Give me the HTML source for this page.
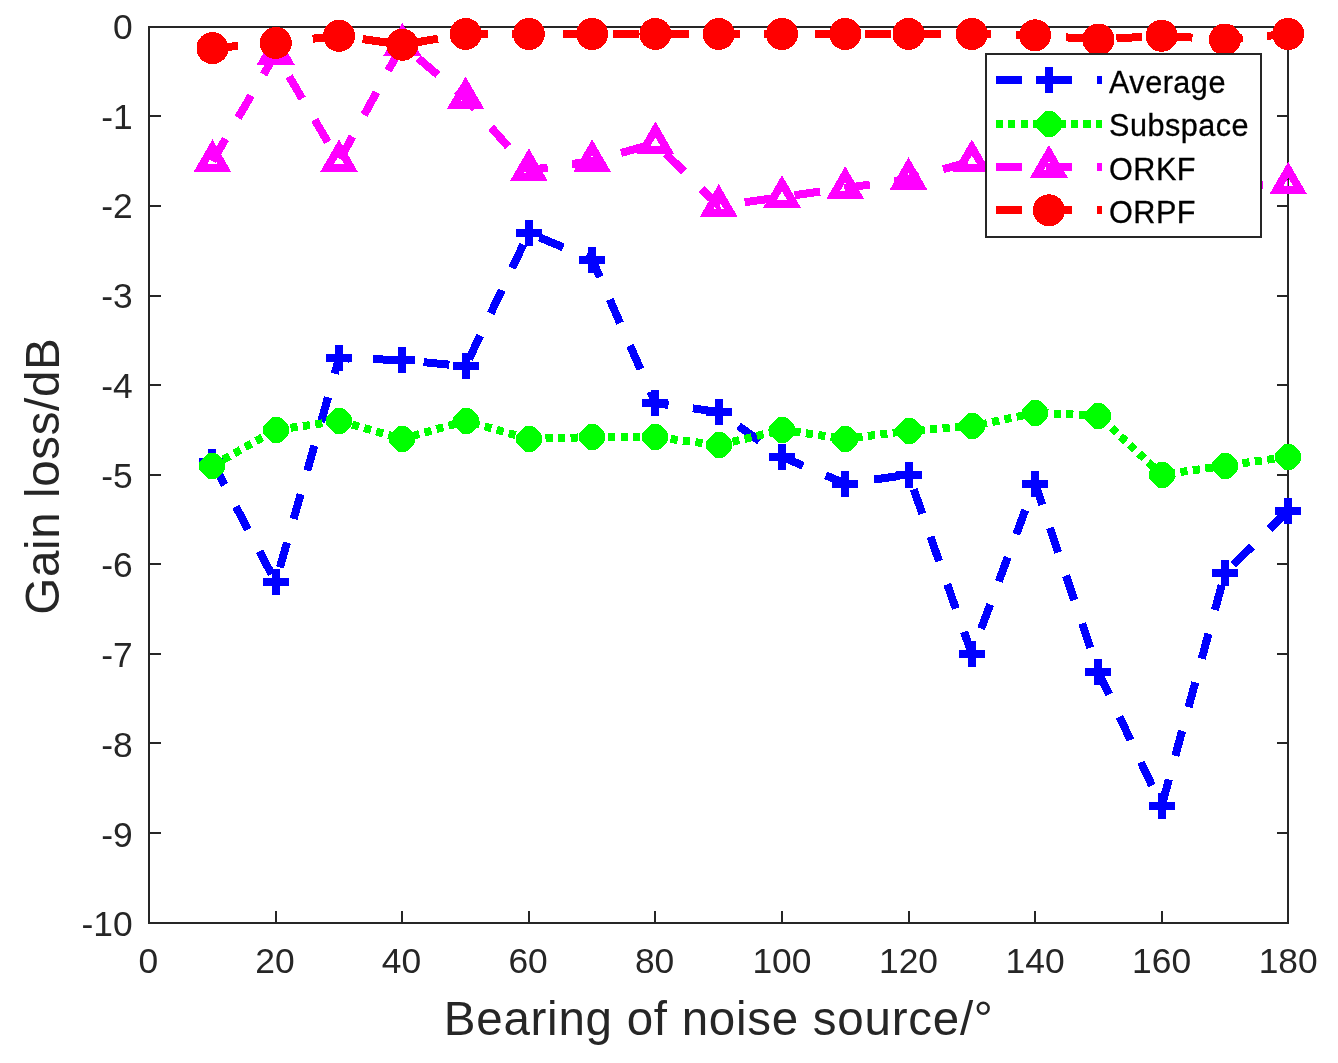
<!DOCTYPE html>
<html><head><meta charset="utf-8"><title>Gain loss</title>
<style>html,body{margin:0;padding:0;background:#fff}svg{display:block}text{font-family:"Liberation Sans",Arial,Helvetica,sans-serif}</style></head><body>
<svg width="1338" height="1063" viewBox="0 0 1338 1063">
<rect width="1338" height="1063" fill="#fff"/>
<g shape-rendering="crispEdges" stroke="#262626" stroke-width="2" fill="none">
<rect x="149.20" y="26.80" width="1139.00" height="895.80"/>
<path d="M275.76 922.60v-11.7M402.31 922.60v-11.7M528.87 922.60v-11.7M655.42 922.60v-11.7M781.98 922.60v-11.7M908.53 922.60v-11.7M1035.09 922.60v-11.7M1161.64 922.60v-11.7M149.20 116.38h11.7M1288.20 116.38h-11.7M149.20 205.96h11.7M1288.20 205.96h-11.7M149.20 295.54h11.7M1288.20 295.54h-11.7M149.20 385.12h11.7M1288.20 385.12h-11.7M149.20 474.70h11.7M1288.20 474.70h-11.7M149.20 564.28h11.7M1288.20 564.28h-11.7M149.20 653.86h11.7M1288.20 653.86h-11.7M149.20 743.44h11.7M1288.20 743.44h-11.7M149.20 833.02h11.7M1288.20 833.02h-11.7"/>
</g>
<g shape-rendering="crispEdges">
<polyline points="212.48,462.16 275.76,582.20 339.03,358.25 402.31,360.04 465.59,366.31 528.87,232.83 592.14,259.71 655.42,403.04 718.70,411.99 781.98,456.78 845.26,483.66 908.53,474.70 971.81,653.86 1035.09,483.66 1098.37,671.78 1161.64,806.15 1224.92,573.24 1288.20,510.53" fill="none" stroke="#0000ff" stroke-width="8" stroke-dasharray="25.8 24.55" stroke-linejoin="miter"/>
<path d="M199.48 462.16H225.48M212.48 449.16V475.16" stroke="#0000ff" stroke-width="8" fill="none"/>
<path d="M262.76 582.20H288.76M275.76 569.20V595.20" stroke="#0000ff" stroke-width="8" fill="none"/>
<path d="M326.03 358.25H352.03M339.03 345.25V371.25" stroke="#0000ff" stroke-width="8" fill="none"/>
<path d="M389.31 360.04H415.31M402.31 347.04V373.04" stroke="#0000ff" stroke-width="8" fill="none"/>
<path d="M452.59 366.31H478.59M465.59 353.31V379.31" stroke="#0000ff" stroke-width="8" fill="none"/>
<path d="M515.87 232.83H541.87M528.87 219.83V245.83" stroke="#0000ff" stroke-width="8" fill="none"/>
<path d="M579.14 259.71H605.14M592.14 246.71V272.71" stroke="#0000ff" stroke-width="8" fill="none"/>
<path d="M642.42 403.04H668.42M655.42 390.04V416.04" stroke="#0000ff" stroke-width="8" fill="none"/>
<path d="M705.70 411.99H731.70M718.70 398.99V424.99" stroke="#0000ff" stroke-width="8" fill="none"/>
<path d="M768.98 456.78H794.98M781.98 443.78V469.78" stroke="#0000ff" stroke-width="8" fill="none"/>
<path d="M832.26 483.66H858.26M845.26 470.66V496.66" stroke="#0000ff" stroke-width="8" fill="none"/>
<path d="M895.53 474.70H921.53M908.53 461.70V487.70" stroke="#0000ff" stroke-width="8" fill="none"/>
<path d="M958.81 653.86H984.81M971.81 640.86V666.86" stroke="#0000ff" stroke-width="8" fill="none"/>
<path d="M1022.09 483.66H1048.09M1035.09 470.66V496.66" stroke="#0000ff" stroke-width="8" fill="none"/>
<path d="M1085.37 671.78H1111.37M1098.37 658.78V684.78" stroke="#0000ff" stroke-width="8" fill="none"/>
<path d="M1148.64 806.15H1174.64M1161.64 793.15V819.15" stroke="#0000ff" stroke-width="8" fill="none"/>
<path d="M1211.92 573.24H1237.92M1224.92 560.24V586.24" stroke="#0000ff" stroke-width="8" fill="none"/>
<path d="M1275.20 510.53H1301.20M1288.20 497.53V523.53" stroke="#0000ff" stroke-width="8" fill="none"/>
<polyline points="212.48,465.74 275.76,429.91 339.03,420.95 402.31,438.87 465.59,420.95 528.87,438.87 592.14,437.08 655.42,437.08 718.70,445.14 781.98,429.91 845.26,438.87 908.53,430.81 971.81,426.33 1035.09,412.89 1098.37,415.58 1161.64,474.70 1224.92,465.74 1288.20,456.78" fill="none" stroke="#00ff00" stroke-width="8" stroke-dasharray="7.15 5.37" stroke-linejoin="miter"/>
<polygon points="208.0,453.0 216.0,453.0 216.0,454.0 217.0,454.0 224.0,461.0 224.0,462.0 225.0,462.0 225.0,470.0 224.0,470.0 224.0,471.0 217.0,478.0 216.0,478.0 216.0,479.0 208.0,479.0 208.0,478.0 207.0,478.0 200.0,471.0 200.0,470.0 199.0,470.0 199.0,462.0 200.0,462.0 200.0,461.0 207.0,454.0 208.0,454.0" fill="#00ff00"/>
<polygon points="272.0,417.0 280.0,417.0 280.0,418.0 281.0,418.0 288.0,425.0 288.0,426.0 289.0,426.0 289.0,434.0 288.0,434.0 288.0,435.0 281.0,442.0 280.0,442.0 280.0,443.0 272.0,443.0 272.0,442.0 271.0,442.0 264.0,435.0 264.0,434.0 263.0,434.0 263.0,426.0 264.0,426.0 264.0,425.0 271.0,418.0 272.0,418.0" fill="#00ff00"/>
<polygon points="335.0,408.0 343.0,408.0 343.0,409.0 344.0,409.0 351.0,416.0 351.0,417.0 352.0,417.0 352.0,425.0 351.0,425.0 351.0,426.0 344.0,433.0 343.0,433.0 343.0,434.0 335.0,434.0 335.0,433.0 334.0,433.0 327.0,426.0 327.0,425.0 326.0,425.0 326.0,417.0 327.0,417.0 327.0,416.0 334.0,409.0 335.0,409.0" fill="#00ff00"/>
<polygon points="398.0,426.0 406.0,426.0 406.0,427.0 407.0,427.0 414.0,434.0 414.0,435.0 415.0,435.0 415.0,443.0 414.0,443.0 414.0,444.0 407.0,451.0 406.0,451.0 406.0,452.0 398.0,452.0 398.0,451.0 397.0,451.0 390.0,444.0 390.0,443.0 389.0,443.0 389.0,435.0 390.0,435.0 390.0,434.0 397.0,427.0 398.0,427.0" fill="#00ff00"/>
<polygon points="462.0,408.0 470.0,408.0 470.0,409.0 471.0,409.0 478.0,416.0 478.0,417.0 479.0,417.0 479.0,425.0 478.0,425.0 478.0,426.0 471.0,433.0 470.0,433.0 470.0,434.0 462.0,434.0 462.0,433.0 461.0,433.0 454.0,426.0 454.0,425.0 453.0,425.0 453.0,417.0 454.0,417.0 454.0,416.0 461.0,409.0 462.0,409.0" fill="#00ff00"/>
<polygon points="525.0,426.0 533.0,426.0 533.0,427.0 534.0,427.0 541.0,434.0 541.0,435.0 542.0,435.0 542.0,443.0 541.0,443.0 541.0,444.0 534.0,451.0 533.0,451.0 533.0,452.0 525.0,452.0 525.0,451.0 524.0,451.0 517.0,444.0 517.0,443.0 516.0,443.0 516.0,435.0 517.0,435.0 517.0,434.0 524.0,427.0 525.0,427.0" fill="#00ff00"/>
<polygon points="588.0,424.0 596.0,424.0 596.0,425.0 597.0,425.0 604.0,432.0 604.0,433.0 605.0,433.0 605.0,441.0 604.0,441.0 604.0,442.0 597.0,449.0 596.0,449.0 596.0,450.0 588.0,450.0 588.0,449.0 587.0,449.0 580.0,442.0 580.0,441.0 579.0,441.0 579.0,433.0 580.0,433.0 580.0,432.0 587.0,425.0 588.0,425.0" fill="#00ff00"/>
<polygon points="651.0,424.0 659.0,424.0 659.0,425.0 660.0,425.0 667.0,432.0 667.0,433.0 668.0,433.0 668.0,441.0 667.0,441.0 667.0,442.0 660.0,449.0 659.0,449.0 659.0,450.0 651.0,450.0 651.0,449.0 650.0,449.0 643.0,442.0 643.0,441.0 642.0,441.0 642.0,433.0 643.0,433.0 643.0,432.0 650.0,425.0 651.0,425.0" fill="#00ff00"/>
<polygon points="715.0,432.0 723.0,432.0 723.0,433.0 724.0,433.0 731.0,440.0 731.0,441.0 732.0,441.0 732.0,449.0 731.0,449.0 731.0,450.0 724.0,457.0 723.0,457.0 723.0,458.0 715.0,458.0 715.0,457.0 714.0,457.0 707.0,450.0 707.0,449.0 706.0,449.0 706.0,441.0 707.0,441.0 707.0,440.0 714.0,433.0 715.0,433.0" fill="#00ff00"/>
<polygon points="778.0,417.0 786.0,417.0 786.0,418.0 787.0,418.0 794.0,425.0 794.0,426.0 795.0,426.0 795.0,434.0 794.0,434.0 794.0,435.0 787.0,442.0 786.0,442.0 786.0,443.0 778.0,443.0 778.0,442.0 777.0,442.0 770.0,435.0 770.0,434.0 769.0,434.0 769.0,426.0 770.0,426.0 770.0,425.0 777.0,418.0 778.0,418.0" fill="#00ff00"/>
<polygon points="841.0,426.0 849.0,426.0 849.0,427.0 850.0,427.0 857.0,434.0 857.0,435.0 858.0,435.0 858.0,443.0 857.0,443.0 857.0,444.0 850.0,451.0 849.0,451.0 849.0,452.0 841.0,452.0 841.0,451.0 840.0,451.0 833.0,444.0 833.0,443.0 832.0,443.0 832.0,435.0 833.0,435.0 833.0,434.0 840.0,427.0 841.0,427.0" fill="#00ff00"/>
<polygon points="905.0,418.0 913.0,418.0 913.0,419.0 914.0,419.0 921.0,426.0 921.0,427.0 922.0,427.0 922.0,435.0 921.0,435.0 921.0,436.0 914.0,443.0 913.0,443.0 913.0,444.0 905.0,444.0 905.0,443.0 904.0,443.0 897.0,436.0 897.0,435.0 896.0,435.0 896.0,427.0 897.0,427.0 897.0,426.0 904.0,419.0 905.0,419.0" fill="#00ff00"/>
<polygon points="968.0,413.0 976.0,413.0 976.0,414.0 977.0,414.0 984.0,421.0 984.0,422.0 985.0,422.0 985.0,430.0 984.0,430.0 984.0,431.0 977.0,438.0 976.0,438.0 976.0,439.0 968.0,439.0 968.0,438.0 967.0,438.0 960.0,431.0 960.0,430.0 959.0,430.0 959.0,422.0 960.0,422.0 960.0,421.0 967.0,414.0 968.0,414.0" fill="#00ff00"/>
<polygon points="1031.0,400.0 1039.0,400.0 1039.0,401.0 1040.0,401.0 1047.0,408.0 1047.0,409.0 1048.0,409.0 1048.0,417.0 1047.0,417.0 1047.0,418.0 1040.0,425.0 1039.0,425.0 1039.0,426.0 1031.0,426.0 1031.0,425.0 1030.0,425.0 1023.0,418.0 1023.0,417.0 1022.0,417.0 1022.0,409.0 1023.0,409.0 1023.0,408.0 1030.0,401.0 1031.0,401.0" fill="#00ff00"/>
<polygon points="1094.0,403.0 1102.0,403.0 1102.0,404.0 1103.0,404.0 1110.0,411.0 1110.0,412.0 1111.0,412.0 1111.0,420.0 1110.0,420.0 1110.0,421.0 1103.0,428.0 1102.0,428.0 1102.0,429.0 1094.0,429.0 1094.0,428.0 1093.0,428.0 1086.0,421.0 1086.0,420.0 1085.0,420.0 1085.0,412.0 1086.0,412.0 1086.0,411.0 1093.0,404.0 1094.0,404.0" fill="#00ff00"/>
<polygon points="1158.0,462.0 1166.0,462.0 1166.0,463.0 1167.0,463.0 1174.0,470.0 1174.0,471.0 1175.0,471.0 1175.0,479.0 1174.0,479.0 1174.0,480.0 1167.0,487.0 1166.0,487.0 1166.0,488.0 1158.0,488.0 1158.0,487.0 1157.0,487.0 1150.0,480.0 1150.0,479.0 1149.0,479.0 1149.0,471.0 1150.0,471.0 1150.0,470.0 1157.0,463.0 1158.0,463.0" fill="#00ff00"/>
<polygon points="1221.0,453.0 1229.0,453.0 1229.0,454.0 1230.0,454.0 1237.0,461.0 1237.0,462.0 1238.0,462.0 1238.0,470.0 1237.0,470.0 1237.0,471.0 1230.0,478.0 1229.0,478.0 1229.0,479.0 1221.0,479.0 1221.0,478.0 1220.0,478.0 1213.0,471.0 1213.0,470.0 1212.0,470.0 1212.0,462.0 1213.0,462.0 1213.0,461.0 1220.0,454.0 1221.0,454.0" fill="#00ff00"/>
<polygon points="1284.0,444.0 1292.0,444.0 1292.0,445.0 1293.0,445.0 1300.0,452.0 1300.0,453.0 1301.0,453.0 1301.0,461.0 1300.0,461.0 1300.0,462.0 1293.0,469.0 1292.0,469.0 1292.0,470.0 1284.0,470.0 1284.0,469.0 1283.0,469.0 1276.0,462.0 1276.0,461.0 1275.0,461.0 1275.0,453.0 1276.0,453.0 1276.0,452.0 1283.0,445.0 1284.0,445.0" fill="#00ff00"/>
<polyline points="212.48,161.17 275.76,53.67 339.03,161.17 402.31,44.72 465.59,98.46 528.87,170.13 592.14,161.17 655.42,143.25 718.70,205.96 781.98,197.00 845.26,188.04 908.53,179.09 971.81,161.17 1035.09,183.57 1098.37,170.13 1161.64,183.57 1224.92,188.04 1288.20,183.57" fill="none" stroke="#ff00ff" stroke-width="8" stroke-dasharray="25.8 24.55" stroke-linejoin="miter"/>
<path d="M212.48 147.31L224.48 168.10L200.48 168.10Z" fill="none" stroke="#ff00ff" stroke-width="8" stroke-linejoin="miter" stroke-miterlimit="10"/>
<path d="M275.76 39.82L287.76 60.60L263.76 60.60Z" fill="none" stroke="#ff00ff" stroke-width="8" stroke-linejoin="miter" stroke-miterlimit="10"/>
<path d="M339.03 147.31L351.03 168.10L327.03 168.10Z" fill="none" stroke="#ff00ff" stroke-width="8" stroke-linejoin="miter" stroke-miterlimit="10"/>
<path d="M402.31 30.86L414.31 51.64L390.31 51.64Z" fill="none" stroke="#ff00ff" stroke-width="8" stroke-linejoin="miter" stroke-miterlimit="10"/>
<path d="M465.59 84.61L477.59 105.39L453.59 105.39Z" fill="none" stroke="#ff00ff" stroke-width="8" stroke-linejoin="miter" stroke-miterlimit="10"/>
<path d="M528.87 156.27L540.87 177.06L516.87 177.06Z" fill="none" stroke="#ff00ff" stroke-width="8" stroke-linejoin="miter" stroke-miterlimit="10"/>
<path d="M592.14 147.31L604.14 168.10L580.14 168.10Z" fill="none" stroke="#ff00ff" stroke-width="8" stroke-linejoin="miter" stroke-miterlimit="10"/>
<path d="M655.42 129.40L667.42 150.18L643.42 150.18Z" fill="none" stroke="#ff00ff" stroke-width="8" stroke-linejoin="miter" stroke-miterlimit="10"/>
<path d="M718.70 192.10L730.70 212.89L706.70 212.89Z" fill="none" stroke="#ff00ff" stroke-width="8" stroke-linejoin="miter" stroke-miterlimit="10"/>
<path d="M781.98 183.15L793.98 203.93L769.98 203.93Z" fill="none" stroke="#ff00ff" stroke-width="8" stroke-linejoin="miter" stroke-miterlimit="10"/>
<path d="M845.26 174.19L857.26 194.97L833.26 194.97Z" fill="none" stroke="#ff00ff" stroke-width="8" stroke-linejoin="miter" stroke-miterlimit="10"/>
<path d="M908.53 165.23L920.53 186.01L896.53 186.01Z" fill="none" stroke="#ff00ff" stroke-width="8" stroke-linejoin="miter" stroke-miterlimit="10"/>
<path d="M971.81 147.31L983.81 168.10L959.81 168.10Z" fill="none" stroke="#ff00ff" stroke-width="8" stroke-linejoin="miter" stroke-miterlimit="10"/>
<path d="M1035.09 169.71L1047.09 190.49L1023.09 190.49Z" fill="none" stroke="#ff00ff" stroke-width="8" stroke-linejoin="miter" stroke-miterlimit="10"/>
<path d="M1098.37 156.27L1110.37 177.06L1086.37 177.06Z" fill="none" stroke="#ff00ff" stroke-width="8" stroke-linejoin="miter" stroke-miterlimit="10"/>
<path d="M1161.64 169.71L1173.64 190.49L1149.64 190.49Z" fill="none" stroke="#ff00ff" stroke-width="8" stroke-linejoin="miter" stroke-miterlimit="10"/>
<path d="M1224.92 174.19L1236.92 194.97L1212.92 194.97Z" fill="none" stroke="#ff00ff" stroke-width="8" stroke-linejoin="miter" stroke-miterlimit="10"/>
<path d="M1288.20 169.71L1300.20 190.49L1276.20 190.49Z" fill="none" stroke="#ff00ff" stroke-width="8" stroke-linejoin="miter" stroke-miterlimit="10"/>
<polyline points="212.48,48.12 275.76,42.92 339.03,35.76 402.31,44.72 465.59,33.97 528.87,33.97 592.14,33.97 655.42,33.97 718.70,33.97 781.98,33.97 845.26,33.97 908.53,33.97 971.81,33.97 1035.09,35.31 1098.37,39.52 1161.64,35.76 1224.92,39.52 1288.20,33.97" fill="none" stroke="#ff0000" stroke-width="8" stroke-dasharray="25.8 24.55" stroke-linejoin="miter"/>
<circle cx="212.48" cy="48.12" r="16" fill="#ff0000"/>
<circle cx="275.76" cy="42.92" r="16" fill="#ff0000"/>
<circle cx="339.03" cy="35.76" r="16" fill="#ff0000"/>
<circle cx="402.31" cy="44.72" r="16" fill="#ff0000"/>
<circle cx="465.59" cy="33.97" r="16" fill="#ff0000"/>
<circle cx="528.87" cy="33.97" r="16" fill="#ff0000"/>
<circle cx="592.14" cy="33.97" r="16" fill="#ff0000"/>
<circle cx="655.42" cy="33.97" r="16" fill="#ff0000"/>
<circle cx="718.70" cy="33.97" r="16" fill="#ff0000"/>
<circle cx="781.98" cy="33.97" r="16" fill="#ff0000"/>
<circle cx="845.26" cy="33.97" r="16" fill="#ff0000"/>
<circle cx="908.53" cy="33.97" r="16" fill="#ff0000"/>
<circle cx="971.81" cy="33.97" r="16" fill="#ff0000"/>
<circle cx="1035.09" cy="35.31" r="16" fill="#ff0000"/>
<circle cx="1098.37" cy="39.52" r="16" fill="#ff0000"/>
<circle cx="1161.64" cy="35.76" r="16" fill="#ff0000"/>
<circle cx="1224.92" cy="39.52" r="16" fill="#ff0000"/>
<circle cx="1288.20" cy="33.97" r="16" fill="#ff0000"/>
</g>
<rect x="986.00" y="54.20" width="275.00" height="183.00" fill="#fff" stroke="#262626" stroke-width="2" shape-rendering="crispEdges"/>
<g shape-rendering="crispEdges">
<path d="M995.8 79.50H1102.1" stroke="#0000ff" stroke-width="8" stroke-dasharray="25.8 24.55" fill="none"/>
<path d="M1035.90 79.50H1061.90M1048.90 66.50V92.50" stroke="#0000ff" stroke-width="8" fill="none"/>
<path d="M995.8 123.70H1102.1" stroke="#00ff00" stroke-width="8" stroke-dasharray="7.15 5.37" fill="none"/>
<polygon points="1045.0,111.0 1053.0,111.0 1053.0,112.0 1054.0,112.0 1061.0,119.0 1061.0,120.0 1062.0,120.0 1062.0,128.0 1061.0,128.0 1061.0,129.0 1054.0,136.0 1053.0,136.0 1053.0,137.0 1045.0,137.0 1045.0,136.0 1044.0,136.0 1037.0,129.0 1037.0,128.0 1036.0,128.0 1036.0,120.0 1037.0,120.0 1037.0,119.0 1044.0,112.0 1045.0,112.0" fill="#00ff00"/>
<path d="M995.8 166.80H1102.1" stroke="#ff00ff" stroke-width="8" stroke-dasharray="25.8 24.55" fill="none"/>
<path d="M1048.90 152.94L1060.90 173.73L1036.90 173.73Z" fill="none" stroke="#ff00ff" stroke-width="8" stroke-linejoin="miter" stroke-miterlimit="10"/>
<path d="M995.8 210.30H1102.1" stroke="#ff0000" stroke-width="8" stroke-dasharray="25.8 24.55" fill="none"/>
<circle cx="1048.90" cy="210.30" r="16" fill="#ff0000"/>
</g>
<text x="1109" y="92.90" font-size="30.6" letter-spacing="0.5" fill="#000" stroke="#000" stroke-width="0.3">Average</text>
<text x="1109" y="136.30" font-size="30.6" letter-spacing="0.5" fill="#000" stroke="#000" stroke-width="0.3">Subspace</text>
<text x="1109" y="180.00" font-size="30.6" letter-spacing="0.5" fill="#000" stroke="#000" stroke-width="0.3">ORKF</text>
<text x="1109" y="222.80" font-size="30.6" letter-spacing="0.5" fill="#000" stroke="#000" stroke-width="0.3">ORPF</text>
<text x="148.40" y="972.5" font-size="35.4" text-anchor="middle" fill="#262626">0</text>
<text x="274.96" y="972.5" font-size="35.4" text-anchor="middle" fill="#262626">20</text>
<text x="401.51" y="972.5" font-size="35.4" text-anchor="middle" fill="#262626">40</text>
<text x="528.07" y="972.5" font-size="35.4" text-anchor="middle" fill="#262626">60</text>
<text x="654.62" y="972.5" font-size="35.4" text-anchor="middle" fill="#262626">80</text>
<text x="781.98" y="972.5" font-size="35.4" text-anchor="middle" fill="#262626">100</text>
<text x="908.53" y="972.5" font-size="35.4" text-anchor="middle" fill="#262626">120</text>
<text x="1035.09" y="972.5" font-size="35.4" text-anchor="middle" fill="#262626">140</text>
<text x="1161.64" y="972.5" font-size="35.4" text-anchor="middle" fill="#262626">160</text>
<text x="1288.20" y="972.5" font-size="35.4" text-anchor="middle" fill="#262626">180</text>
<text x="132.7" y="39.00" font-size="35.4" text-anchor="end" fill="#262626">0</text>
<text x="132.7" y="128.73" font-size="35.4" text-anchor="end" fill="#262626">-1</text>
<text x="132.7" y="218.46" font-size="35.4" text-anchor="end" fill="#262626">-2</text>
<text x="132.7" y="308.19" font-size="35.4" text-anchor="end" fill="#262626">-3</text>
<text x="132.7" y="397.92" font-size="35.4" text-anchor="end" fill="#262626">-4</text>
<text x="132.7" y="487.65" font-size="35.4" text-anchor="end" fill="#262626">-5</text>
<text x="132.7" y="577.38" font-size="35.4" text-anchor="end" fill="#262626">-6</text>
<text x="132.7" y="667.11" font-size="35.4" text-anchor="end" fill="#262626">-7</text>
<text x="132.7" y="756.84" font-size="35.4" text-anchor="end" fill="#262626">-8</text>
<text x="132.7" y="846.57" font-size="35.4" text-anchor="end" fill="#262626">-9</text>
<text x="132.7" y="936.30" font-size="35.4" text-anchor="end" fill="#262626">-10</text>
<text x="718.70" y="1034.5" font-size="47.5" letter-spacing="0.74" text-anchor="middle" fill="#262626">Bearing of noise source/°</text>
<text transform="translate(58.6 476.20) rotate(-90)" font-size="47.5" letter-spacing="0.64" text-anchor="middle" fill="#262626">Gain loss/dB</text>
</svg></body></html>
